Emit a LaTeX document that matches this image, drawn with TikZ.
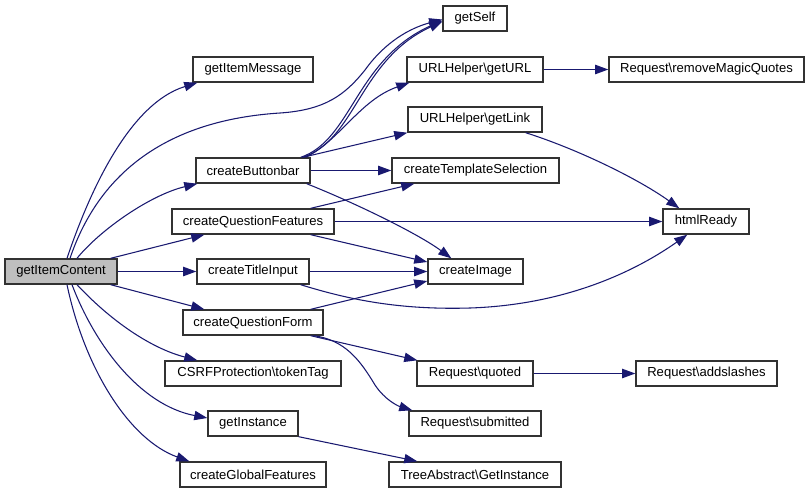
\documentclass[tikz,border=0pt]{standalone}
\usepackage{fontspec}
\setmainfont{Liberation Sans}
\usetikzlibrary{arrows.meta,calc}
\definecolor{edgecol}{RGB}{25,25,112}
\definecolor{rootfill}{RGB}{191,191,191}
\definecolor{boxline}{RGB}{50,50,50}
\def\upx{0.75pt}
\begin{document}
\begin{tikzpicture}[x=0.75pt,y=-0.75pt,
  box/.style={draw=boxline,line width=1.05pt,fill=white,rectangle,inner sep=0pt,
    minimum height=25*\upx,font=\fontsize{9.8}{11}\selectfont,text=black},
  root/.style={box,fill=rootfill},
  edge/.style={draw=edgecol,line width=0.8pt,-{Triangle[length=9.8pt,width=7pt]}}]
\useasboundingbox (0,0) rectangle (809,493);
% nodes
\node[root,minimum width=112*\upx] (gic)  at (61,271.5)  {getItemContent};
\node[box,minimum width=120*\upx]  (gim)  at (253,69.5)  {getItemMessage};
\node[box,minimum width=114*\upx]  (cbb)  at (253,170.5) {createButtonbar};
\node[box,minimum width=162*\upx]  (cqf)  at (253,221.5) {createQuestionFeatures};
\node[box,minimum width=112*\upx]  (cti)  at (253,271.5) {createTitleInput};
\node[box,minimum width=140*\upx]  (cqfo) at (253,322.5) {createQuestionForm};
\node[box,minimum width=176*\upx]  (csrf) at (253,373.5) {CSRFProtection\textbackslash tokenTag};
\node[box,minimum width=90*\upx]   (gin)  at (253,423.5) {getInstance};
\node[box,minimum width=146*\upx]  (cgf)  at (253,474.5) {createGlobalFeatures};
\node[box,minimum width=64*\upx]   (gs)   at (475,18.5)  {getSelf};
\node[box,minimum width=136*\upx]  (url)  at (475,69.5)  {URLHelper\textbackslash getURL};
\node[box,minimum width=195*\upx]  (rmq)  at (706.5,69.5) {Request\textbackslash removeMagicQuotes};
\node[box,minimum width=134*\upx]  (link) at (475,119.5) {URLHelper\textbackslash getLink};
\node[box,minimum width=167*\upx]  (cts)  at (475.5,170.5) {createTemplateSelection};
\node[box,minimum width=86*\upx]   (html) at (706,221.5) {htmlReady};
\node[box,minimum width=95*\upx]   (cimg) at (475.5,271.5) {createImage};
\node[box,minimum width=116*\upx]  (rq)   at (475,373.5) {Request\textbackslash quoted};
\node[box,minimum width=141*\upx]  (ras)  at (706.5,373.5) {Request\textbackslash addslashes};
\node[box,minimum width=132*\upx]  (rs)   at (475,423.5) {Request\textbackslash submitted};
\node[box,minimum width=172*\upx]  (tai)  at (475,474.5) {TreeAbstract\textbackslash GetInstance};
% edges from getItemContent
\draw[edge] ($(gic.north)+(6,0)$) .. controls (85,205) and (125,105) .. ($(gim.south west)+(5,0)$);
\draw[edge] ($(gic.north)+(9,0)$) .. controls (100,170) and (170,120) .. (280,113)
   .. controls (325,110) and (345,95) .. (365,70)
   .. controls (385,42) and (410,28) .. ($(gs.west)+(0,1)$);
\draw[edge] ($(gic.north)+(16,0)$) .. controls (100,230) and (150,195) .. ($(cbb.south west)+(2,0)$);
\draw[edge] ($(gic.north east)+(-7,0)$) -- ($(cqf.south west)+(33,0)$);
\draw[edge] (gic.east) -- (cti.west);
\draw[edge] ($(gic.south east)+(-7,0)$) -- ($(cqfo.north west)+(22,0)$);
\draw[edge] ($(gic.south)+(16,0)$) .. controls (110,320) and (150,348) .. ($(csrf.north west)+(33,0)$);
\draw[edge] ($(gic.south)+(11,0)$) .. controls (95,345) and (140,405) .. ($(gin.west)+(0,-5.5)$);
\draw[edge] ($(gic.south)+(6,0)$) .. controls (85,370) and (130,440) .. ($(cgf.north west)+(10,0)$);
% edges from createButtonbar
\draw[edge] ($(cbb.north east)+(-10,0)$) .. controls (352,140) and (355,60) .. ($(gs.west)+(0,2)$);
\draw[edge] ($(cbb.north east)+(-8,0)$) .. controls (356,140) and (359,60) .. ($(gs.west)+(0,3)$);
\draw[edge] ($(cbb.north east)+(-5,0)$) .. controls (340,140) and (360,100) .. ($(url.south west)+(3,0)$);
\draw[edge] ($(cbb.north east)+(-8,0)$) -- (link.south west);
\draw[edge] (cbb.east) -- (cts.west);
\draw[edge] ($(cbb.south east)+(-4,0)$) .. controls (360,205) and (420,235) .. ($(cimg.north west)+(24,0)$);
% edges from createQuestionFeatures
\draw[edge] ($(cqf.north east)+(-24,0)$) -- ($(cts.south west)+(23,0)$);
\draw[edge] (cqf.east) -- (html.west);
\draw[edge] ($(cqf.south east)+(-24,0)$) -- ($(cimg.west)+(0,-9.5)$);
% edges from createTitleInput
\draw[edge] (cti.east) -- (cimg.west);
\draw[edge] ($(cti.south east)+(-9,0)$) .. controls (350,300) and (400,310) .. (470,308)
   .. controls (560,305) and (630,275) .. ($(html.south west)+(25,0)$);
% edges from createQuestionForm
\draw[edge] ($(cqfo.north east)+(-13,0)$) -- ($(cimg.west)+(0,9.5)$);
\draw[edge] ($(cqfo.south east)+(-13,0)$) -- ($(rq.north west)+(1,0)$);
\draw[edge] ($(cqfo.south east)+(-10,0)$) .. controls (345,340) and (360,360) .. (375,385)
   .. controls (385,400) and (398,406) .. ($(rs.north west)+(4,0)$);
% other edges
\draw[edge] (url.east) -- (rmq.west);
\draw[edge] ($(link.south east)+(-17,0)$) .. controls (580,150) and (640,180) .. ($(html.north west)+(17,0)$);
\draw[edge] (rq.east) -- (ras.west);
\draw[edge] (gin.south east) -- ($(tai.north west)+(29,0)$);
\end{tikzpicture}
\end{document}
